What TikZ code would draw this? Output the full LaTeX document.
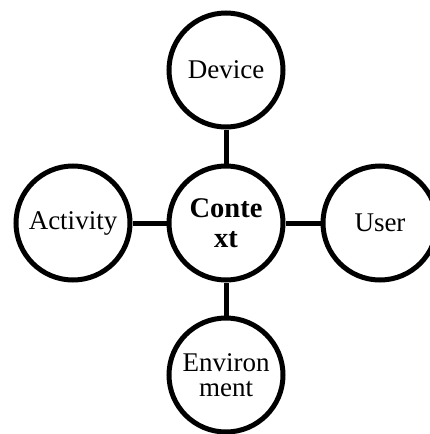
\documentclass[tikz,border=0pt]{standalone}
\usepackage{fontspec}
\setmainfont{Liberation Serif}
\begin{document}
\begin{tikzpicture}[x=1pt,y=-1pt,
  ring/.style={circle,draw=black,line width=5pt,fill=white,minimum size=114pt,
    inner sep=0pt,align=center,font=\fontsize{27}{25}\selectfont},
  hub/.style={ring,font=\bfseries\fontsize{28.5}{30}\selectfont},
  link/.style={draw=black,line width=5pt}]
  \useasboundingbox (0,0) rectangle (430,434);
  \node[hub]  (ctx) at (226,223) {Conte\\xt};
  \node[ring] (dev) at (226,70)  {Device};
  \node[ring] (act) at (73,223)  {Activity};
  \node[ring] (usr) at (380,223) {User};
  \node[ring] (env) at (226,375) {Environ\\ment};
  \draw[link] (dev) -- (ctx);
  \draw[link] (act) -- (ctx);
  \draw[link] (usr) -- (ctx);
  \draw[link] (env) -- (ctx);
\end{tikzpicture}
\end{document}
